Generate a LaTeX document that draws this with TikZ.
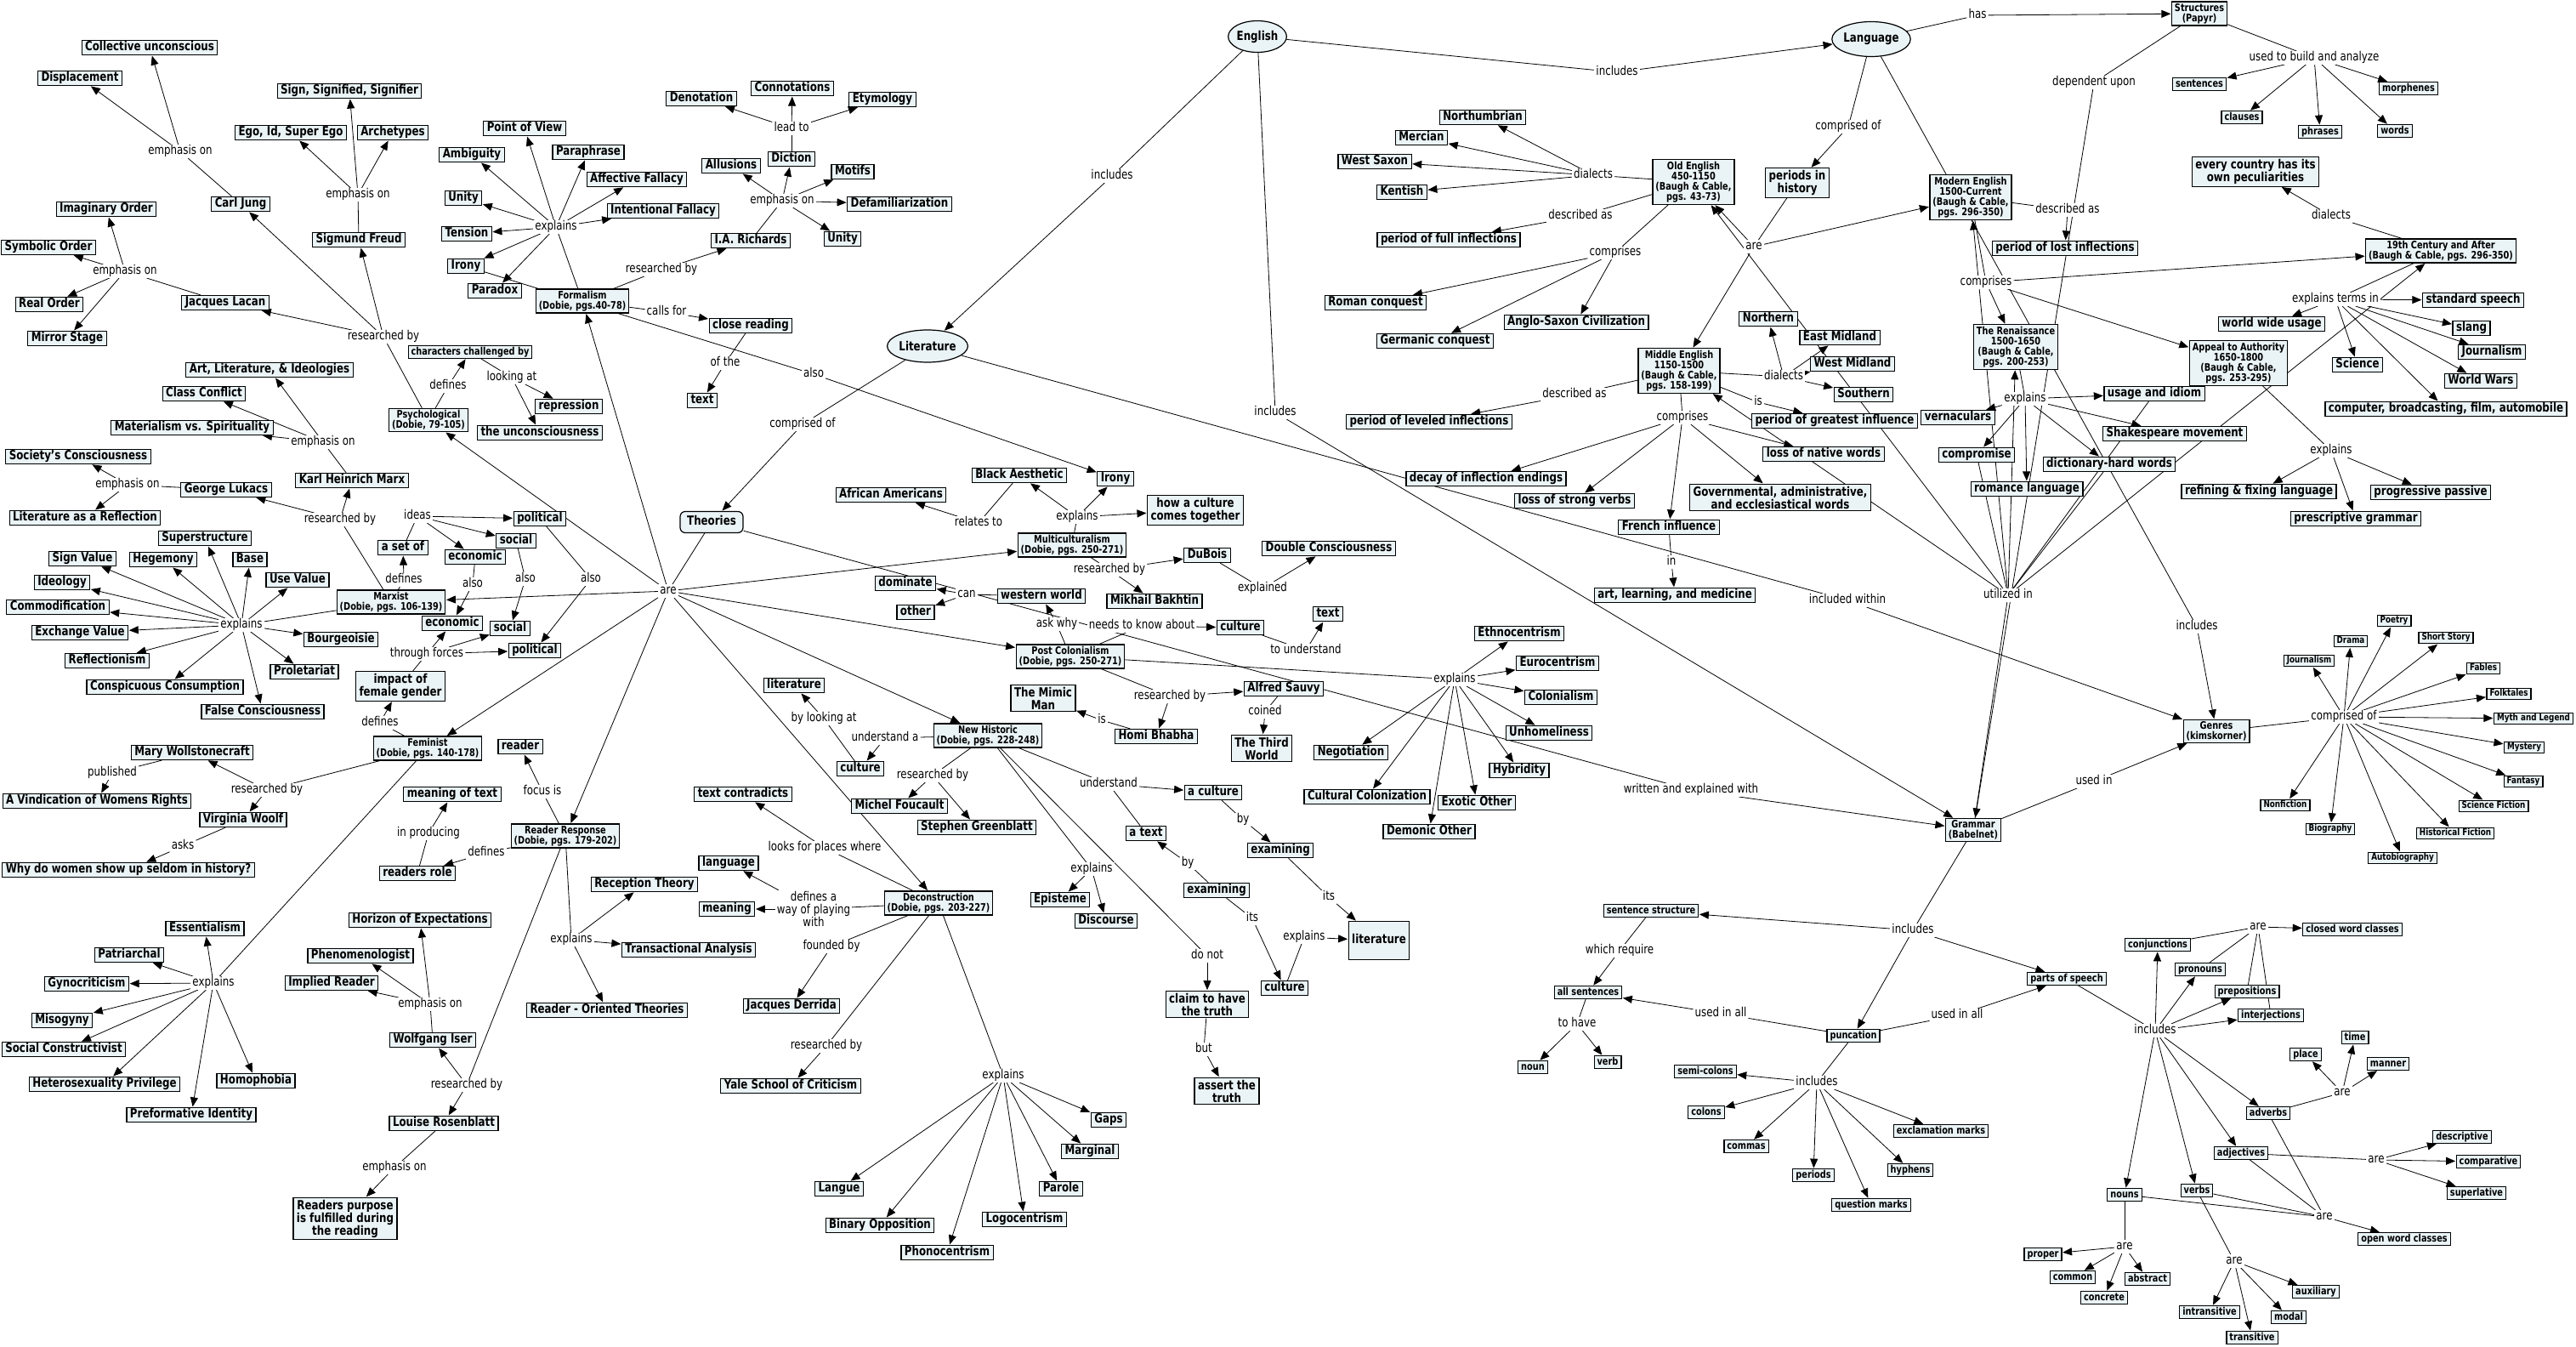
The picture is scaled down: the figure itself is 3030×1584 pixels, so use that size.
\documentclass[tikz,border=0pt]{standalone}
\usepackage{fontspec}
\setmainfont{DejaVu Sans}[FakeStretch=0.8]
\usetikzlibrary{arrows.meta,shapes.geometric}
\pgfdeclarelayer{bg}
\pgfsetlayers{bg,main}
\definecolor{cfill}{RGB}{234,243,246}
\newcommand\fbig{\fontsize{14.8pt}{15pt}\selectfont\bfseries}
\newcommand\fsml{\fontsize{12.2pt}{12.2pt}\selectfont\bfseries}
\newcommand\ftny{\fontsize{11pt}{11.5pt}\selectfont\bfseries}
\newcommand\flab{\fontsize{14.8pt}{15pt}\selectfont}
\newcommand\cmrel[3]{\draw[ln] (#1) -- (#2); \foreach \x in {#3}{\draw[ar] (#2) -- (\x);}}
\tikzset{
 cb/.style={draw, line width=1.2pt, fill=cfill, font=\fbig, inner xsep=4pt, inner ysep=1.5pt, text height=10.9pt, text depth=3.1pt},
 cbm/.style={draw, line width=1.2pt, fill=cfill, font=\fbig, inner xsep=4pt, inner ysep=2.5pt, align=center},
 cs/.style={draw, line width=1.2pt, fill=cfill, font=\fsml, inner xsep=3.5pt, inner ysep=1.5pt, text height=9pt, text depth=2.6pt},
 csm/.style={draw, line width=1.2pt, fill=cfill, font=\fsml, inner xsep=3.5pt, inner ysep=2pt, align=center},
 ct/.style={draw, line width=1.2pt, fill=cfill, font=\ftny, inner xsep=3.5pt, inner ysep=1.5pt, text height=8.1pt, text depth=2.4pt},
 ell/.style={draw, line width=1.2pt, fill=cfill, ellipse, font=\fbig, inner sep=0pt},
 lb/.style={font=\flab, fill=white, inner xsep=2pt, inner ysep=1pt, text height=10.5pt, text depth=3pt},
 lbm/.style={font=\flab, fill=white, inner sep=1.5pt, align=center},
 ln/.style={line width=0.8pt},
 ar/.style={line width=0.8pt, -{Triangle[length=11pt,width=9pt]}, shorten >=0.5pt},
}
\begin{document}
\begin{tikzpicture}[x=1pt,y=-1pt]
\useasboundingbox (0,0) rectangle (3030,1584);
% ---------- top-level ----------
\node[ell, minimum width=67pt, minimum height=37pt] (english) at (1479,43) {English};
\node[ell, minimum width=82pt, minimum height=41pt] (language) at (2201,46) {Language};
\node[ell, minimum width=85pt, minimum height=38pt] (literature) at (1091,407) {Literature};
\node[cb, rounded corners=6pt, minimum height=25pt, minimum width=74pt] (theories) at (837,614) {Theories};
\node[lb] (lEngLit) at (1308,207) {includes};
\node[lb] (lEngLang) at (1902,85) {includes};
\node[lb] (lEngGram) at (1500,485) {includes};
\node[lb] (lLitTh) at (944,499) {comprised of};
\node[lb] (lLitGen) at (2173,706) {included within};
\node[lb] (lThAre) at (786,695) {are};
\node[lb] (lThGram) at (1989,929) {written and explained with};
\node[lb] (lLangCompr) at (2174,149) {comprised of};
\node[lb] (lLangHas) at (2326,18) {has};
\node[lb] (lLangGen) at (2584,737) {includes};
% ---------- psychological ----------
\node[cb] (collun) at (176,56) {Collective unconscious};
\node[cb] (displ) at (94,92) {Displacement};
\node[lb] (lJung) at (212,178) {emphasis on};
\node[cb] (jung) at (283,240) {Carl Jung};
\node[cb] (sign) at (411,107) {Sign, Signified, Signifier};
\node[cb] (ego) at (342,156) {Ego, Id, Super Ego};
\node[cb] (arch) at (462,156) {Archetypes};
\node[lb] (lFreud) at (421,229) {emphasis on};
\node[cb] (freud) at (422,282) {Sigmund Freud};
\node[cb] (imag) at (125,246) {Imaginary Order};
\node[cb] (symb) at (57,291) {Symbolic Order};
\node[lb] (lLacan) at (147,319) {emphasis on};
\node[cb] (realo) at (58,358) {Real Order};
\node[cb] (mirror) at (79,398) {Mirror Stage};
\node[cb] (lacan) at (265,356) {Jacques Lacan};
\node[lb] (lPsyRes) at (451,396) {researched by};
\node[cs] (chal) at (553,414) {characters challenged by};
\node[lb] (lPsyDef) at (527,454) {defines};
\node[lb] (lLook) at (602,444) {looking at};
\node[cb] (repr) at (669,478) {repression};
\node[cb] (uncon) at (635,509) {the unconsciousness};
\node[csm] (psych) at (504,494) {Psychological\\(Dobie, 79-105)};
% ---------- marxist ----------
\node[cb] (artlit) at (317,435) {Art, Literature, \& Ideologies};
\node[cb] (classc) at (240,463) {Class Conflict};
\node[cb] (mater) at (226,503) {Materialism vs. Spirituality};
\node[lb] (lMarxEmp) at (380,520) {emphasis on};
\node[cb] (marx) at (414,565) {Karl Heinrich Marx};
\node[cb] (society) at (92,537) {Society's Consciousness};
\node[lb] (lLuk) at (150,570) {emphasis on};
\node[cb] (lukacs) at (266,576) {George Lukacs};
\node[cb] (litrefl) at (100,609) {Literature as a Reflection};
\node[lb] (lMarxRes) at (400,611) {researched by};
\node[lb] (lIdeas) at (491,607) {ideas};
\node[cb] (pol1) at (635,610) {political};
\node[cb] (setof) at (474,644) {a set of};
\node[cb] (soc1) at (607,636) {social};
\node[cb] (eco1) at (559,655) {economic};
\node[lb] (lMxDef) at (475,682) {defines};
\node[lb] (lAlsoE) at (556,687) {also};
\node[lb] (lAlsoS) at (618,681) {also};
\node[lb] (lAlsoP) at (695,681) {also};
\node[cb] (superstr) at (241,633) {Superstructure};
\node[cb] (signv) at (97,657) {Sign Value};
\node[cb] (hegem) at (192,658) {Hegemony};
\node[cb] (base) at (294,658) {Base};
\node[cb] (ideol) at (73,685) {Ideology};
\node[cb] (usev) at (350,682) {Use Value};
\node[cb] (commod) at (68,714) {Commodification};
\node[csm] (marxist) at (460,708) {Marxist\\(Dobie, pgs. 106-139)};
\node[lb] (lMxExp) at (284,735) {explains};
\node[cb] (exch) at (94,744) {Exchange Value};
\node[cb] (bourg) at (401,752) {Bourgeoisie};
\node[cb] (eco2) at (532,733) {economic};
\node[cb] (soc2) at (600,739) {social};
\node[lb] (lForces) at (502,769) {through forces};
\node[cb] (pol2) at (629,765) {political};
\node[cb] (reflect) at (126,777) {Reflectionism};
\node[cb] (prolet) at (358,790) {Proletariat};
\node[cb] (consp) at (194,808) {Conspicuous Consumption};
\node[cbm] (female) at (471,807) {impact of\\female gender};
\node[cb] (falsec) at (309,837) {False Consciousness};
% ---------- feminist / reader response ----------
\node[lb] (lFemDef) at (447,850) {defines};
\node[csm] (feminist) at (503,880) {Feminist\\(Dobie, pgs. 140-178)};
\node[cb] (reader) at (612,878) {reader};
\node[cb] (mary) at (226,885) {Mary Wollstonecraft};
\node[lb] (lPub) at (132,909) {published};
\node[lb] (lFemRes) at (314,929) {researched by};
\node[cb] (vindic) at (114,942) {A Vindication of Womens Rights};
\node[cb] (meantext) at (532,934) {meaning of text};
\node[lb] (lFocus) at (638,931) {focus is};
\node[cb] (woolf) at (286,964) {Virginia Woolf};
\node[lb] (lProd) at (504,980) {in producing};
\node[csm] (rr) at (665,983) {Reader Response\\(Dobie, pgs. 179-202)};
\node[lb] (lAsks) at (215,995) {asks};
\node[lb] (lRRDef) at (572,1003) {defines};
\node[cb] (why) at (151,1023) {Why do women show up seldom in history?};
\node[cb] (readrole) at (491,1027) {readers role};
\node[cb] (essent) at (241,1092) {Essentialism};
\node[cb] (patri) at (152,1123) {Patriarchal};
\node[lb] (lFemExp) at (251,1156) {explains};
\node[cb] (gyno) at (102,1157) {Gynocriticism};
\node[cb] (misog) at (73,1200) {Misogyny};
\node[cb] (socconst) at (75,1234) {Social Constructivist};
\node[cb] (hetero) at (123,1275) {Heterosexuality Privilege};
\node[cb] (homoph) at (301,1271) {Homophobia};
\node[cb] (preform) at (225,1311) {Preformative Identity};
\node[cb] (horizon) at (494,1082) {Horizon of Expectations};
\node[cb] (phenom) at (424,1124) {Phenomenologist};
\node[cb] (implied) at (390,1156) {Implied Reader};
\node[lb] (lIserEmp) at (506,1181) {emphasis on};
\node[cb] (iser) at (509,1223) {Wolfgang Iser};
\node[lb] (lRRRes) at (549,1276) {researched by};
\node[cb] (rosen) at (522,1321) {Louise Rosenblatt};
\node[lb] (lRosEmp) at (464,1373) {emphasis on};
\node[cbm] (purpose) at (406,1433) {Readers purpose\\is fulfilled during\\the reading};
\node[lb] (lRRExp) at (672,1105) {explains};
\node[cb] (recept) at (758,1040) {Reception Theory};
\node[cb] (transact) at (810,1117) {Transactional Analysis};
\node[cb] (rot) at (714,1188) {Reader - Oriented Theories};
% ---------- formalism ----------
\node[cb] (point) at (617,151) {Point of View};
\node[cb] (ambig) at (555,182) {Ambiguity};
\node[cb] (para) at (692,179) {Paraphrase};
\node[cb] (affect) at (749,211) {Affective Fallacy};
\node[cb] (unity1) at (545,233) {Unity};
\node[cb] (intent) at (780,248) {Intentional Fallacy};
\node[lb] (lFormExp) at (654,267) {explains};
\node[cb] (tension) at (549,275) {Tension};
\node[cb] (irony1) at (548,313) {Irony};
\node[cb] (paradox) at (582,342) {Paradox};
\node[csm] (formal) at (685,354) {Formalism\\(Dobie, pgs.40-78)};
\node[lb] (lFormRes) at (778,317) {researched by};
\node[lb] (lCalls) at (784,367) {calls for};
\node[cb] (closer) at (883,383) {close reading};
\node[lb] (lOfThe) at (853,427) {of the};
\node[cb] (text1) at (826,471) {text};
\node[lb] (lAlsoIrony) at (957,440) {also};
\node[cb] (denot) at (825,116) {Denotation};
\node[cb] (connot) at (932,104) {Connotations};
\node[cb] (etym) at (1038,117) {Etymology};
\node[lb] (lLead) at (931,151) {lead to};
\node[cb] (diction) at (931,187) {Diction};
\node[cb] (allus) at (860,195) {Allusions};
\node[cb] (motifs) at (1003,202) {Motifs};
\node[lb] (lIAEmp) at (920,236) {emphasis on};
\node[cb] (defam) at (1058,240) {Defamiliarization};
\node[cb] (unity2) at (991,281) {Unity};
\node[cb] (iar) at (883,283) {I.A. Richards};
% ---------- multicultural / post colonial / new historic ----------
\node[cb] (irony2) at (1312,563) {Irony};
\node[cb] (black) at (1199,559) {Black Aesthetic};
\node[cb] (african) at (1048,582) {African Americans};
\node[lb] (lRel) at (1151,615) {relates to};
\node[lb] (lMultExp) at (1267,608) {explains};
\node[cbm] (howcult) at (1406,600) {how a culture\\comes together};
\node[csm] (multi) at (1261,641) {Multiculturalism\\(Dobie, pgs. 250-271)};
\node[cb] (dubois) at (1420,653) {DuBois};
\node[lb] (lMultRes) at (1305,670) {researched by};
\node[cb] (bakhtin) at (1358,707) {Mikhail Bakhtin};
\node[lb] (lExpl) at (1485,692) {explained};
\node[cb] (doublec) at (1563,645) {Double Consciousness};
\node[cb] (dominate) at (1065,686) {dominate};
\node[cb] (western) at (1225,701) {western world};
\node[lb] (lCan) at (1137,699) {can};
\node[cb] (other) at (1077,720) {other};
\node[lb] (lAsk) at (1243,734) {ask why};
\node[lb] (lNeeds) at (1343,736) {needs to know about};
\node[cb] (cult1) at (1459,738) {culture};
\node[csm] (postcol) at (1259,772) {Post Colonialism\\(Dobie, pgs. 250-271)};
\node[lb] (lToUnd) at (1536,765) {to understand};
\node[cb] (text2) at (1562,722) {text};
\node[cb] (lit2) at (934,806) {literature};
\node[cbm] (mimic) at (1227,821) {The Mimic\\Man};
\node[lb] (lPCRes) at (1376,819) {researched by};
\node[cb] (sauvy) at (1510,810) {Alfred Sauvy};
\node[lb] (lCoined) at (1488,837) {coined};
\node[cbm] (third) at (1484,880) {The Third\\World};
\node[lb] (lByLook) at (969,845) {by looking at};
\node[lb] (lIs) at (1296,847) {is};
\node[cb] (homi) at (1360,866) {Homi Bhabha};
\node[lb] (lUndA) at (1041,868) {understand a};
\node[csm] (newhist) at (1162,865) {New Historic\\(Dobie, pgs. 228-248)};
\node[cb] (cult2) at (1012,904) {culture};
\node[lb] (lNHRes) at (1097,912) {researched by};
\node[lb] (lUnd) at (1304,922) {understand};
\node[cb] (acult) at (1427,932) {a culture};
\node[cb] (textcontr) at (874,934) {text contradicts};
\node[cb] (foucault) at (1058,948) {Michel Foucault};
\node[lb] (lBy1) at (1462,964) {by};
\node[cb] (greenbl) at (1149,973) {Stephen Greenblatt};
\node[cb] (atext) at (1348,980) {a text};
\node[lb] (lLooks) at (970,997) {looks for places where};
\node[cb] (exam1) at (1506,1000) {examining};
\node[lb] (lBy2) at (1397,1015) {by};
\node[cb] (language2) at (857,1015) {language};
\node[lb] (lNHExp) at (1284,1022) {explains};
\node[cb] (exam2) at (1431,1047) {examining};
\node[cb] (episteme) at (1247,1058) {Episteme};
\node[lbm] (lDefWay) at (957,1069) {defines a\\way of playing\\with};
\node[csm] (deconst) at (1104,1062) {Deconstruction\\(Dobie, pgs. 203-227)};
\node[cb] (meaning) at (855,1069) {meaning};
\node[cb] (discourse) at (1301,1083) {Discourse};
\node[lb] (lFounded) at (978,1113) {founded by};
\node[lb] (lDoNot) at (1420,1124) {do not};
\node[lb] (lIts2) at (1473,1080) {its};
\node[lb] (lIts1) at (1563,1055) {its};
\node[cb] (cult3) at (1511,1162) {culture};
\node[cbm] (claim) at (1420,1181) {claim to have\\the truth};
\node[cb] (derrida) at (931,1183) {Jacques Derrida};
\node[lb] (lDecRes) at (972,1230) {researched by};
\node[lb] (lBut) at (1416,1234) {but};
\node[cb] (yale) at (930,1277) {Yale School of Criticism};
\node[lb] (lDecExp) at (1180,1265) {explains};
\node[cbm] (assert) at (1443,1283) {assert the\\truth};
\node[cb] (gaps) at (1304,1317) {Gaps};
\node[cb] (marginal) at (1282,1354) {Marginal};
\node[cb] (langue) at (987,1398) {Langue};
\node[cb] (parole) at (1248,1398) {Parole};
\node[cb] (binary) at (1035,1441) {Binary Opposition};
\node[cb] (logoc) at (1205,1434) {Logocentrism};
\node[cb] (phonoc) at (1114,1473) {Phonocentrism};
\node[lb] (lCultExp) at (1534,1102) {explains};
\node[cb, minimum width=71pt, minimum height=45pt] (lit3) at (1622,1106) {literature};
\node[cb] (ethno) at (1787,745) {Ethnocentrism};
\node[cb] (euro) at (1832,780) {Eurocentrism};
\node[lb] (lPCExp) at (1711,799) {explains};
\node[cb] (colon) at (1836,820) {Colonialism};
\node[cb] (unhome) at (1822,862) {Unhomeliness};
\node[cb] (negot) at (1589,885) {Negotiation};
\node[cb] (hybrid) at (1787,906) {Hybridity};
\node[cb] (cultcol) at (1608,937) {Cultural Colonization};
\node[cb] (exotic) at (1737,944) {Exotic Other};
\node[cb] (demonic) at (1681,978) {Demonic Other};
% ---------- language history ----------
\node[cbm] (periods) at (2114,215) {periods in\\history};
\node[cb] (northum) at (1744,138) {Northumbrian};
\node[cb] (mercian) at (1672,162) {Mercian};
\node[cb] (wsaxon) at (1617,190) {West Saxon};
\node[cb] (kentish) at (1649,226) {Kentish};
\node[lb] (lOEDial) at (1874,206) {dialects};
\node[csm] (oe) at (1992,214) {Old English\\450-1150\\(Baugh \& Cable,\\pgs. 43-73)};
\node[lb] (lOEDesc) at (1859,254) {described as};
\node[cb] (fullinf) at (1704,282) {period of full inflections};
\node[lb] (lOEComp) at (1900,297) {comprises};
\node[cb] (roman) at (1618,356) {Roman conquest};
\node[cb] (anglo) at (1854,379) {Anglo-Saxon Civilization};
\node[cb] (germanic) at (1688,401) {Germanic conquest};
\node[lb] (lAre) at (2063,290) {are};
\node[cb] (northern) at (2080,375) {Northern};
\node[cb] (emid) at (2164,397) {East Midland};
\node[cb] (wmid) at (2179,428) {West Midland};
\node[cb] (southern) at (2192,464) {Southern};
\node[csm] (me) at (1975,436) {Middle English\\1150-1500\\(Baugh \& Cable,\\pgs. 158-199)};
\node[lb] (lMEDial) at (2098,443) {dialects};
\node[lb] (lMEDesc) at (1852,464) {described as};
\node[cb] (levinf) at (1681,496) {period of leveled inflections};
\node[lb] (lMEIs) at (2068,473) {is};
\node[cb] (greatest) at (2158,495) {period of greatest influence};
\node[lb] (lMEComp) at (1979,491) {comprises};
\node[cb] (vernac) at (2303,491) {vernaculars};
\node[csm] (modern) at (2318,232) {Modern English\\1500-Current\\(Baugh \& Cable,\\pgs. 296-350)};
\node[cb] (lossnat) at (2145,534) {loss of native words};
\node[cb] (decay) at (1748,563) {decay of inflection endings};
\node[cb] (lossstr) at (1852,589) {loss of strong verbs};
\node[cbm] (govt) at (2094,585) {Governmental, administrative,\\and ecclesiastical words};
\node[cb] (french) at (1963,620) {French influence};
\node[lb] (lIn) at (1966,661) {in};
\node[cb] (artlearn) at (1970,700) {art, learning, and medicine};
% ---------- structures / modern ----------
\node[csm] (structs) at (2587,16) {Structures\\(Papyr)};
\node[lb] (lDep) at (2463,97) {dependent upon};
\node[lb] (lBuild) at (2722,68) {used to build and analyze};
\node[cs] (sentences) at (2587,99) {sentences};
\node[cs] (morph) at (2833,104) {morphenes};
\node[cs] (clauses) at (2637,138) {clauses};
\node[cs] (phrases) at (2729,155) {phrases};
\node[cs] (words) at (2817,154) {words};
\node[cbm] (country) at (2653,202) {every country has its\\own peculiarities};
\node[lb] (l19Dial) at (2742,254) {dialects};
\node[lb] (lModDesc) at (2432,247) {described as};
\node[cb] (lostinf) at (2429,292) {period of lost inflections};
\node[csm] (c19) at (2871,295) {19th Century and After\\(Baugh \& Cable, pgs. 296-350)};
\node[lb] (lModComp) at (2336,332) {comprises};
\node[lb] (l19Exp) at (2747,352) {explains terms in};
\node[cb] (stdsp) at (2909,353) {standard speech};
\node[cb] (wwu) at (2672,381) {world wide usage};
\node[cb] (slang) at (2907,386) {slang};
\node[cb] (journ1) at (2931,414) {Journalism};
\node[cb] (science) at (2773,429) {Science};
\node[cb] (ww) at (2918,448) {World Wars};
\node[cb] (computer) at (2877,481) {computer, broadcasting, film, automobile};
\node[csm] (ren) at (2371,408) {The Renaissance\\1500-1650\\(Baugh \& Cable,\\pgs. 200-253)};
\node[csm] (appeal) at (2633,427) {Appeal to Authority\\1650-1800\\(Baugh \& Cable,\\pgs. 253-295)};
\node[lb] (lRenExp) at (2382,469) {explains};
\node[cb] (usage) at (2534,463) {usage and idiom};
\node[cb] (shakes) at (2558,510) {Shakespeare movement};
\node[lb] (lAppExp) at (2742,530) {explains};
\node[cb] (compromise) at (2325,535) {compromise};
\node[cb] (dict) at (2481,546) {dictionary-hard words};
\node[cb] (romance) at (2384,575) {romance language};
\node[cb] (refine) at (2657,578) {refining \& fixing language};
\node[cb] (progp) at (2859,579) {progressive passive};
\node[cb] (prescr) at (2771,610) {prescriptive grammar};
\node[lb] (lUtil) at (2362,700) {utilized in};
% ---------- genres ----------
\node[csm] (genres) at (2607,860) {Genres\\(kimskorner)};
\node[lb] (lGenComp) at (2757,843) {comprised of};
\node[ct] (poetry) at (2816,730) {Poetry};
\node[ct] (drama) at (2765,754) {Drama};
\node[ct] (shortst) at (2877,750) {Short Story};
\node[ct] (journ2) at (2716,777) {Journalism};
\node[ct] (fables) at (2921,786) {Fables};
\node[ct] (folk) at (2951,816) {Folktales};
\node[ct] (myth) at (2980,845) {Myth and Legend};
\node[ct] (mystery) at (2969,879) {Mystery};
\node[ct] (fantasy) at (2968,919) {Fantasy};
\node[ct] (scifi) at (2933,948) {Science Fiction};
\node[ct] (histf) at (2888,980) {Historical Fiction};
\node[ct] (autob) at (2826,1009) {Autobiography};
\node[ct] (biog) at (2741,975) {Biography};
\node[ct] (nonfic) at (2688,947) {Nonfiction};
\node[lb] (lUsedIn) at (2463,919) {used in};
\node[csm] (grammar) at (2321,976) {Grammar\\(Babelnet)};
% ---------- grammar ----------
\node[cs] (sentstruct) at (1942,1071) {sentence structure};
\node[lb] (lGramInc) at (2250,1094) {includes};
\node[lb] (lWhich) at (1905,1118) {which require};
\node[cs] (allsent) at (1868,1167) {all sentences};
\node[lb] (lUsedAll1) at (2024,1192) {used in all};
\node[lb] (lToHave) at (1855,1204) {to have};
\node[cs] (punc) at (2180,1218) {puncation};
\node[cs] (noun) at (1803,1255) {noun};
\node[cs] (verb) at (1891,1249) {verb};
\node[cs] (semicol) at (2006,1260) {semi-colons};
\node[lb] (lPuncInc) at (2137,1273) {includes};
\node[cs] (colons) at (2007,1308) {colons};
\node[cs] (exclam) at (2283,1330) {exclamation marks};
\node[cs] (commas) at (2054,1348) {commas};
\node[cs] (hyphens) at (2247,1376) {hyphens};
\node[cs] (periodsn) at (2133,1382) {periods};
\node[cs] (qmarks) at (2201,1417) {question marks};
\node[lb] (lClosedAre) at (2656,1090) {are};
\node[cs] (closedwc) at (2767,1093) {closed word classes};
\node[cs] (conj) at (2538,1111) {conjunctions};
\node[cs] (pronouns) at (2588,1140) {pronouns};
\node[cs] (pos) at (2431,1151) {parts of speech};
\node[cs] (prep) at (2643,1166) {prepositions};
\node[lb] (lUsedAll2) at (2302,1194) {used in all};
\node[cs] (interj) at (2671,1194) {interjections};
\node[lb] (lPosInc) at (2535,1212) {includes};
\node[cs] (time) at (2770,1220) {time};
\node[cs] (place) at (2712,1240) {place};
\node[cs] (manner) at (2809,1251) {manner};
\node[lb] (lAdvAre) at (2755,1285) {are};
\node[cs] (adverbs) at (2668,1309) {adverbs};
\node[cs] (descr) at (2896,1337) {descriptive};
\node[cs] (adjs) at (2636,1356) {adjectives};
\node[lb] (lAdjAre) at (2795,1364) {are};
\node[cs] (compar) at (2927,1366) {comparative};
\node[cs] (superl) at (2913,1403) {superlative};
\node[cs] (nouns) at (2499,1405) {nouns};
\node[cs] (verbs) at (2584,1400) {verbs};
\node[lb] (lOpenAre) at (2734,1431) {are};
\node[cs] (openwc) at (2828,1457) {open word classes};
\node[lb] (lNounAre) at (2499,1466) {are};
\node[cs] (proper) at (2403,1475) {proper};
\node[lb] (lVerbAre) at (2628,1483) {are};
\node[cs] (common) at (2438,1502) {common};
\node[cs] (abstract) at (2526,1504) {abstract};
\node[cs] (auxil) at (2724,1519) {auxiliary};
\node[cs] (concrete) at (2475,1526) {concrete};
\node[cs] (intrans) at (2599,1543) {intransitive};
\node[cs] (modal) at (2692,1549) {modal};
\node[cs] (transit) at (2649,1573) {transitive};
% ================= connectors =================
\begin{pgfonlayer}{bg}
\fill[white] (0,0) rectangle (3030,1584);
\cmrel{english}{lEngLit}{literature}
\cmrel{english}{lEngLang}{language}
\cmrel{english}{lEngGram}{grammar}
\cmrel{literature}{lLitTh}{theories}
\cmrel{literature}{lLitGen}{genres}
\cmrel{theories}{lThAre}{formal,psych,marxist,feminist,rr,deconst,newhist,postcol,multi}
\cmrel{theories}{lThGram}{grammar}
\cmrel{language}{lLangCompr}{periods}
\cmrel{language}{lLangHas}{structs}
\cmrel{language}{lLangGen}{genres}
\cmrel{structs}{lDep}{grammar}
\cmrel{structs}{lBuild}{sentences,clauses,phrases,words,morph}
\cmrel{periods}{lAre}{oe,me,modern}
\cmrel{oe}{lOEDial}{northum,mercian,wsaxon,kentish}
\cmrel{oe}{lOEDesc}{fullinf}
\cmrel{oe}{lOEComp}{roman,germanic,anglo}
\cmrel{me}{lMEDial}{northern,emid,wmid,southern}
\cmrel{me}{lMEDesc}{levinf}
\cmrel{me}{lMEIs}{greatest}
\cmrel{me}{lMEComp}{decay,lossstr,french,govt,lossnat}
\cmrel{french}{lIn}{artlearn}
\cmrel{modern}{lModDesc}{lostinf}
\cmrel{modern}{lModComp}{c19,ren,appeal}
\cmrel{c19}{l19Dial}{country}
\cmrel{c19}{l19Exp}{stdsp,wwu,slang,journ1,science,ww,computer}
\cmrel{appeal}{lAppExp}{refine,prescr,progp}
\cmrel{ren}{lRenExp}{vernac,compromise,usage,shakes,romance,dict}
\cmrel{grammar}{lUtil}{oe,me,modern,ren,c19}
\draw[ln] (compromise) -- (lUtil);
\draw[ln] (dict) -- (lUtil);
\draw[ln] (usage) -- (lUtil);
\cmrel{grammar}{lUsedIn}{genres}
\cmrel{genres}{lGenComp}{poetry,drama,shortst,journ2,fables,folk,myth,mystery,fantasy,scifi,histf,autob,biog,nonfic}
\cmrel{grammar}{lGramInc}{sentstruct,punc,pos}
\cmrel{sentstruct}{lWhich}{allsent}
\cmrel{allsent}{lToHave}{noun,verb}
\cmrel{punc}{lUsedAll1}{allsent}
\cmrel{punc}{lUsedAll2}{pos}
\cmrel{punc}{lPuncInc}{semicol,colons,commas,periodsn,qmarks,hyphens,exclam}
\cmrel{pos}{lPosInc}{conj,pronouns,prep,interj,adverbs,adjs,verbs,nouns}
\draw[ln] (pronouns) -- (lClosedAre);
\draw[ln] (prep) -- (lClosedAre);
\draw[ln] (interj) -- (lClosedAre);
\cmrel{conj}{lClosedAre}{closedwc}
\cmrel{adverbs}{lAdvAre}{place,time,manner}
\cmrel{adjs}{lAdjAre}{descr,compar,superl}
\draw[ln] (verbs) -- (lOpenAre);
\draw[ln] (adjs) -- (lOpenAre);
\draw[ln] (adverbs) -- (lOpenAre);
\cmrel{nouns}{lOpenAre}{openwc}
\cmrel{nouns}{lNounAre}{proper,common,concrete,abstract}
\cmrel{verbs}{lVerbAre}{intrans,transit,modal,auxil}
\cmrel{formal}{lFormExp}{point,ambig,para,affect,unity1,intent,tension,irony1,paradox}
\cmrel{formal}{lFormRes}{iar}
\cmrel{formal}{lCalls}{closer}
\cmrel{closer}{lOfThe}{text1}
\cmrel{irony1}{lAlsoIrony}{irony2}
\cmrel{iar}{lIAEmp}{allus,diction,motifs,defam,unity2}
\cmrel{diction}{lLead}{denot,connot,etym}
\cmrel{psych}{lPsyRes}{jung,freud,lacan}
\cmrel{jung}{lJung}{displ,collun}
\cmrel{freud}{lFreud}{ego,sign,arch}
\cmrel{lacan}{lLacan}{imag,symb,realo,mirror}
\cmrel{psych}{lPsyDef}{chal}
\cmrel{chal}{lLook}{repr,uncon}
\cmrel{marxist}{lMarxRes}{marx,lukacs}
\cmrel{marx}{lMarxEmp}{artlit,classc,mater}
\cmrel{lukacs}{lLuk}{society,litrefl}
\cmrel{marxist}{lMxDef}{setof}
\cmrel{setof}{lIdeas}{pol1,eco1,soc1}
\cmrel{eco1}{lAlsoE}{eco2}
\cmrel{soc1}{lAlsoS}{soc2}
\cmrel{pol1}{lAlsoP}{pol2}
\cmrel{marxist}{lMxExp}{superstr,signv,hegem,base,usev,ideol,commod,exch,bourg,reflect,prolet,consp,falsec}
\cmrel{female}{lForces}{eco2,soc2,pol2}
\cmrel{feminist}{lFemDef}{female}
\cmrel{feminist}{lFemRes}{mary,woolf}
\cmrel{mary}{lPub}{vindic}
\cmrel{woolf}{lAsks}{why}
\cmrel{feminist}{lFemExp}{essent,patri,gyno,misog,socconst,hetero,preform,homoph}
\cmrel{rr}{lFocus}{reader}
\cmrel{rr}{lRRDef}{readrole}
\cmrel{readrole}{lProd}{meantext}
\cmrel{rr}{lRRRes}{iser,rosen}
\cmrel{iser}{lIserEmp}{horizon,phenom,implied}
\cmrel{rosen}{lRosEmp}{purpose}
\cmrel{rr}{lRRExp}{recept,transact,rot}
\cmrel{deconst}{lLooks}{textcontr}
\cmrel{deconst}{lDefWay}{language2,meaning}
\cmrel{deconst}{lFounded}{derrida}
\cmrel{deconst}{lDecRes}{yale}
\cmrel{deconst}{lDecExp}{langue,binary,phonoc,logoc,parole,marginal,gaps}
\cmrel{newhist}{lUndA}{cult2}
\cmrel{cult2}{lByLook}{lit2}
\cmrel{newhist}{lNHRes}{foucault,greenbl}
\cmrel{newhist}{lUnd}{acult}
\draw[ln] (lUnd) -- (atext);
\cmrel{acult}{lBy1}{exam1}
\cmrel{exam2}{lBy2}{atext}
\cmrel{exam1}{lIts1}{lit3}
\cmrel{exam2}{lIts2}{cult3}
\cmrel{cult3}{lCultExp}{lit3}
\cmrel{newhist}{lNHExp}{episteme,discourse}
\cmrel{newhist}{lDoNot}{claim}
\cmrel{claim}{lBut}{assert}
\cmrel{postcol}{lAsk}{western}
\cmrel{western}{lCan}{dominate,other}
\cmrel{postcol}{lNeeds}{cult1}
\cmrel{cult1}{lToUnd}{text2}
\cmrel{postcol}{lPCExp}{ethno,euro,colon,unhome,negot,hybrid,cultcol,exotic,demonic}
\cmrel{postcol}{lPCRes}{sauvy,homi}
\cmrel{sauvy}{lCoined}{third}
\cmrel{homi}{lIs}{mimic}
\cmrel{multi}{lMultExp}{black,irony2,howcult}
\cmrel{black}{lRel}{african}
\cmrel{multi}{lMultRes}{dubois,bakhtin}
\cmrel{dubois}{lExpl}{doublec}
\end{pgfonlayer}
\end{tikzpicture}
\end{document}
